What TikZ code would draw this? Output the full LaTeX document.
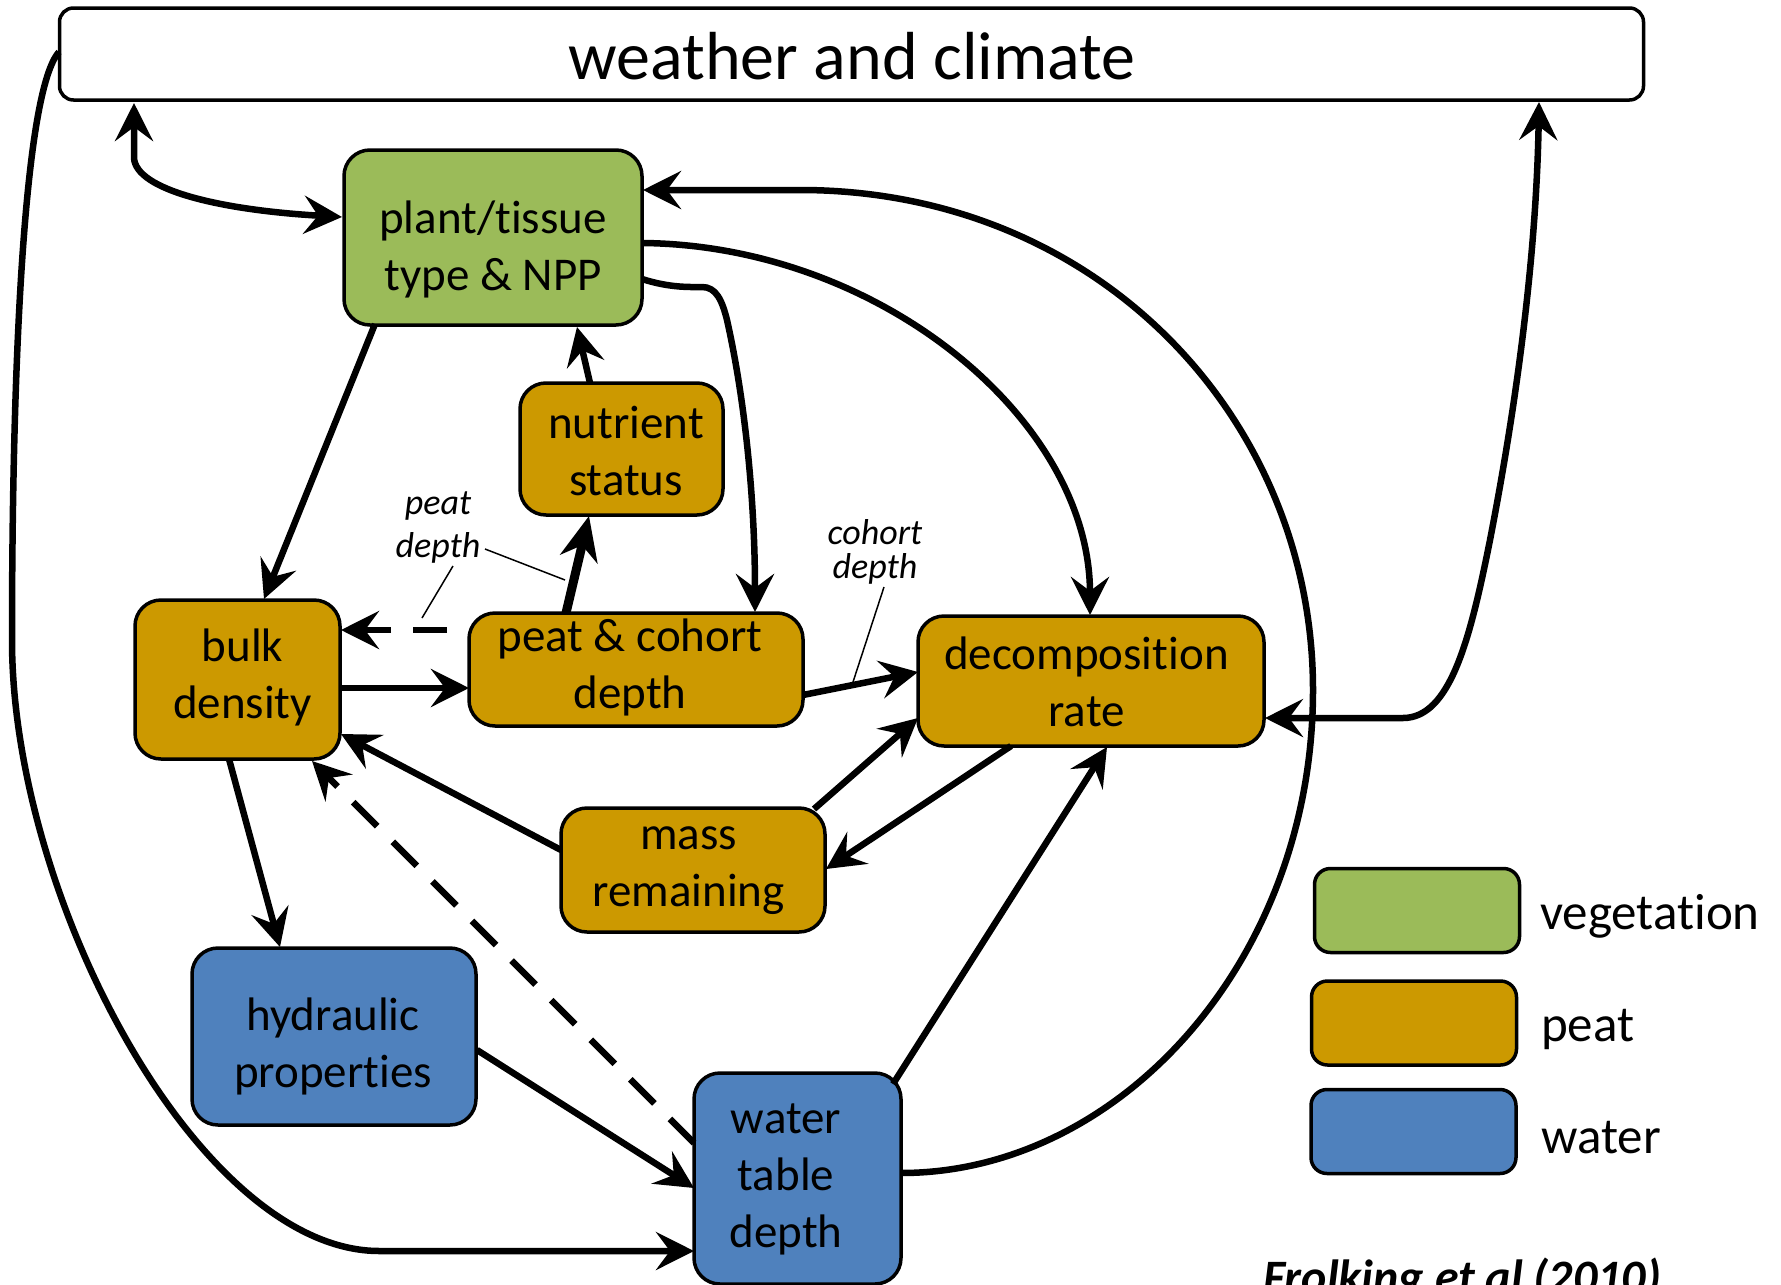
\documentclass[tikz,border=0pt]{standalone}
\usepackage{fontspec}
\setmainfont{Carlito}[Ligatures={NoCommon,NoRare,NoDiscretionary,NoContextual,NoRequired}]
\usetikzlibrary{arrows.meta}
\definecolor{vegc}{HTML}{9BBB59}
\definecolor{peatc}{HTML}{CC9900}
\definecolor{waterc}{HTML}{4F81BD}
\newcommand{\nolig}{\kern0pt }
\begin{document}
\begin{tikzpicture}[x=1pt,y=-1pt,
  box/.style={draw=black, line width=3.5pt, rounded corners=26pt, inner sep=0pt},
  vegbox/.style={box, fill=vegc},
  peatbox/.style={box, fill=peatc},
  waterbox/.style={box, fill=waterc},
  legbox/.style={draw=black, line width=3.5pt, rounded corners=16pt, inner sep=0pt, minimum width=205pt, minimum height=84pt},
  txt/.style={font=\fontsize{47}{57}\selectfont, align=center, inner sep=0pt},
  note/.style={font=\fontsize{36}{43}\itshape\selectfont, align=center, inner sep=0pt},
  ahead/.style={-{Stealth[length=38pt,width=38pt,inset=14pt]}},
  dhead/.style={{Stealth[length=38pt,width=38pt,inset=14pt]}-{Stealth[length=38pt,width=38pt,inset=14pt]}},
  conn/.style={line width=6.5pt, ahead},
  dconn/.style={conn, dash pattern=on 34pt off 22pt},
  lead/.style={line width=1.5pt},
]
\useasboundingbox (0,0) rectangle (1781,1285);
\clip (0,0) rectangle (1781,1285);

% boxes
\node[box, minimum width=1584pt, minimum height=92pt, rounded corners=14pt] (W) at (851.5,54) {};
\node[txt, font=\fontsize{68}{80}\selectfont] (Wt) at (852,56) {weather and climate};

\node[vegbox, minimum width=298pt, minimum height=175pt] (P) at (493,237.5) {};
\node[txt] (Pt) at (493,249) {plant/t\nolig issue\\type \& NPP};
\node[peatbox, minimum width=203pt, minimum height=132pt] (N) at (621.5,449) {};
\node[txt] (Nt) at (626,451) {nutrient\\status};
\node[peatbox, minimum width=205pt, minimum height=159pt] (B) at (237.5,679.5) {};
\node[txt] (Bt) at (242.5,677.5) {bulk\\density};
\node[peatbox, minimum width=334pt, minimum height=113pt] (C) at (636,669.5) {};
\node[txt] (Ct) at (630,667.5) {peat \& cohort\\depth};
\node[peatbox, minimum width=346pt, minimum height=130pt] (D) at (1091,681) {};
\node[txt] (Dt) at (1086.5,681.5) {decomposit\nolig ion\\rate};
\node[peatbox, minimum width=264pt, minimum height=124pt] (M) at (693,870) {};
\node[txt] (Mt) at (688.5,871) {mass\\remaining};
\node[waterbox, minimum width=284pt, minimum height=177pt] (H) at (334,1036.5) {};
\node[txt] (Ht) at (333,1046.5) {hydraulic\\propert\nolig ies};
\node[waterbox, minimum width=207pt, minimum height=211pt] (T) at (797.5,1178.5) {};
\node[txt] (Tt) at (786,1179) {water\\table\\depth};

% legend
\node[legbox, fill=vegc] (LV) at (1417,910.5) {};
\node[legbox, fill=peatc] (LP) at (1414,1023) {};
\node[legbox, fill=waterc] (LW) at (1413.5,1131.5) {};
\node[font=\fontsize{51}{60}\selectfont, anchor=base west, inner sep=0pt] (LVt) at (1540,929) {vegetat\nolig ion};
\node[font=\fontsize{51}{60}\selectfont, anchor=base west, inner sep=0pt] (LPt) at (1541,1041) {peat};
\node[font=\fontsize{51}{60}\selectfont, anchor=base west, inner sep=0pt] (LWt) at (1541,1153) {water};
\node[font=\fontsize{48}{58}\bfseries\itshape\selectfont, anchor=base west, inner sep=0pt] (ref) at (1263,1293) {Frolking et al (2010)};

% labels
\node[note] (pdl) at (438,527.5) {peat\\depth};
\node[note, font=\fontsize{36}{34}\itshape\selectfont] (cdl) at (875,551.5) {cohort\\depth};
\coordinate (pd1) at (565,580);
\coordinate (pd2) at (422,618);
\coordinate (cd1) at (853,682);

% connectors
\draw[line width=6.5pt, dhead] ([shift={(-717.5,49)}]W.center) -- (134,158) .. controls (136,190) and (220,210) .. ([shift={(-151,-20.5)}]P.center);
\draw[conn] ([shift={(-792.5,-2)}]W.center) .. controls (25,90) and (12,350) .. (12,640) .. controls (12,900) and (200,1252) .. (380,1251) -- ([shift={(-103.5,72.5)}]T.center);
\draw[line width=6.5pt, dhead] ([shift={(174,37)}]D.center) -- (1403,718) .. controls (1450,718) and (1470,640) .. (1490,540) .. controls (1525,360) and (1537,220) .. ([shift={(687.5,48)}]W.center);
\draw[conn] ([shift={(103.5,-5.5)}]T.center) .. controls (1120,1173) and (1313,960) .. (1313,690) .. controls (1313,420) and (1100,190) .. (800,190) -- ([shift={(150,-47.5)}]P.center);
\draw[conn] ([shift={(149,5.5)}]P.center) .. controls (880,245) and (1090,420) .. ([shift={(-1,-66)}]D.center);
\draw[conn] ([shift={(149,41.5)}]P.center) .. controls (670,288) and (690,287) .. (702,287) .. controls (716,287) and (722,300) .. (727,320) .. controls (745,400) and (755,500) .. ([shift={(119,-57.5)}]C.center);
\draw[conn] ([shift={(-118,86.5)}]P.center) -- ([shift={(26.5,-80.5)}]B.center);
\draw[conn] ([shift={(-31.5,-66)}]N.center) -- ([shift={(84,89.5)}]P.center);
\draw[line width=9pt, -{Stealth[length=44pt,width=38pt,inset=14pt]}] ([shift={(-70,-56.5)}]C.center) -- ([shift={(-32.5,67)}]N.center);
\draw[dconn, dash phase=34pt] ([shift={(-167,-39.5)}]C.center) -- ([shift={(103.5,-49.5)}]B.center);
\draw[conn] ([shift={(102.5,8.5)}]B.center) -- ([shift={(-167,18.5)}]C.center);
\draw[conn] ([shift={(167,25.5)}]C.center) -- ([shift={(-173,-9)}]D.center);
\draw[conn] ([shift={(121,-61)}]M.center) -- ([shift={(-173,37)}]D.center);
\draw[conn] ([shift={(-80,65)}]D.center) -- ([shift={(133,-1)}]M.center);
\draw[conn] ([shift={(-132,-20)}]M.center) -- ([shift={(103.5,54.5)}]B.center);
\draw[dconn] ([shift={(-103.5,-35.5)}]T.center) -- ([shift={(74.5,81.5)}]B.center);
\draw[conn] ([shift={(-8.5,79.5)}]B.center) -- ([shift={(-54,-89.5)}]H.center);
\draw[conn] ([shift={(143,13.5)}]H.center) -- ([shift={(-103.5,9.5)}]T.center);
\draw[conn] ([shift={(95.5,-94.5)}]T.center) -- ([shift={(16,66)}]D.center);

% leader lines
\draw[lead] ([shift={(47,21.5)}]pdl.center) -- (pd1);
\draw[lead] ([shift={(15,38.5)}]pdl.center) -- (pd2);
\draw[lead] ([shift={(9,35.5)}]cdl.center) -- (cd1);
\end{tikzpicture}
\end{document}
